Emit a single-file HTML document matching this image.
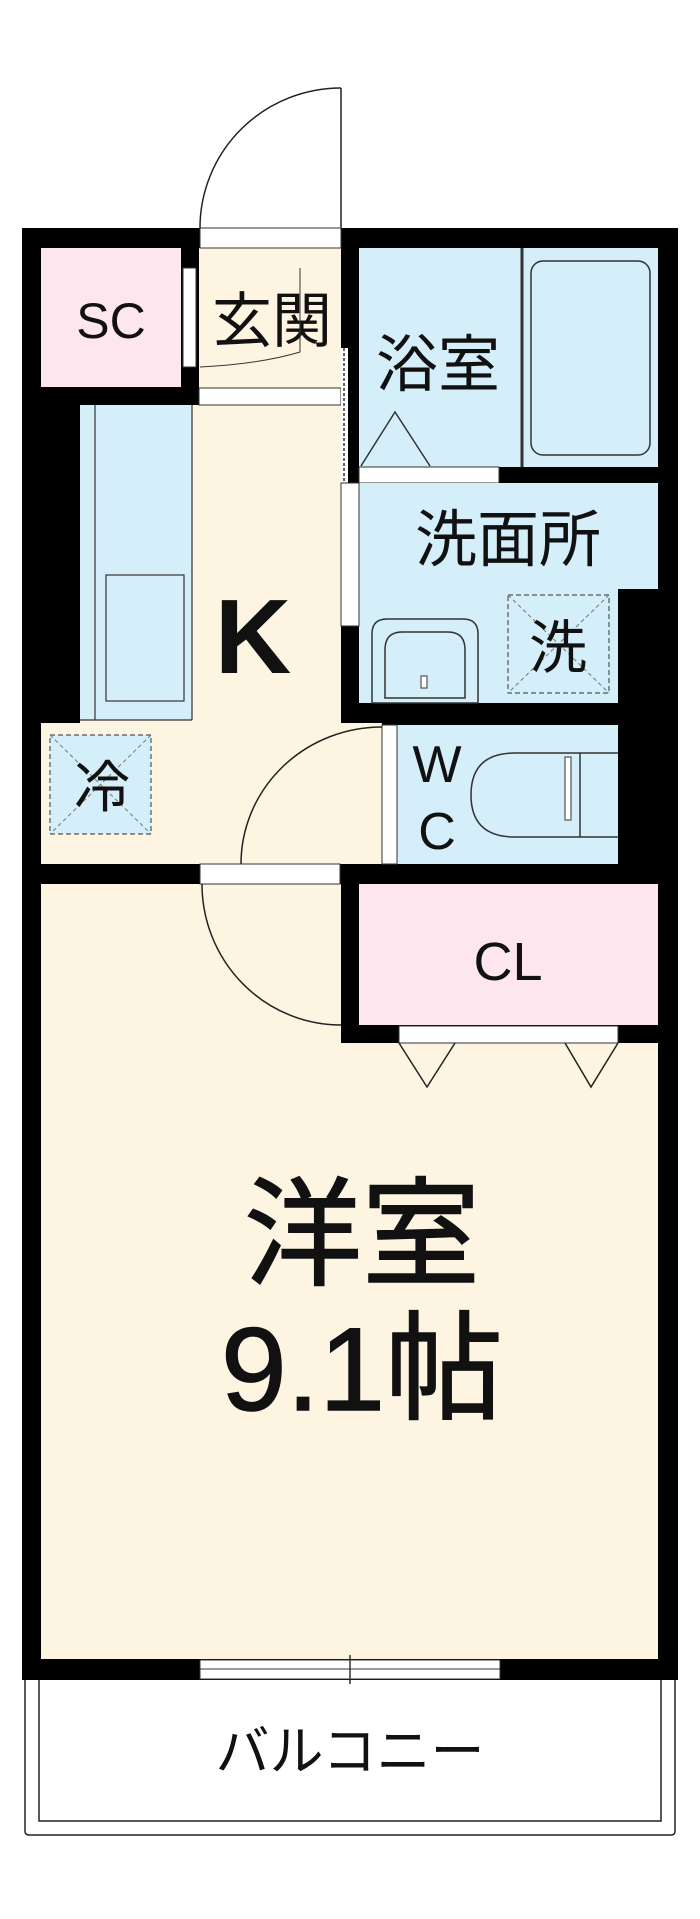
<!DOCTYPE html>
<html><head><meta charset="utf-8"><style>
html,body{margin:0;padding:0;background:#fff}
svg{display:block}
text{font-family:"Liberation Sans","Noto Sans CJK JP",sans-serif;fill:#111}
</style></head><body>
<svg width="700" height="1919" viewBox="0 0 700 1919" xmlns="http://www.w3.org/2000/svg">
<!-- balcony -->
<path d="M25 1680 V1831 Q25 1835 29 1835 H671 Q675 1835 675 1831 V1680" fill="#fff" stroke="#222" stroke-width="1.5"/>
<path d="M39 1680 V1821 H661 V1680" fill="none" stroke="#222" stroke-width="1.5"/>
<text x="350" y="1770" font-size="54" text-anchor="middle">バルコニー</text>

<!-- outer wall block -->
<rect x="22" y="228" width="656" height="1452" fill="#000"/>
<!-- bedroom -->
<rect x="41" y="884" width="300" height="775" fill="#fdf5e2"/>
<rect x="41" y="1043" width="617" height="616" fill="#fdf5e2"/>
<!-- K -->
<rect x="41" y="723" width="341" height="141" fill="#fdf5e2"/>
<rect x="80" y="405" width="261" height="459" fill="#fdf5e2"/>
<!-- genkan -->
<rect x="199" y="248" width="142" height="157" fill="#fdf5e2"/>
<rect x="200" y="228" width="141" height="20" fill="#fff" stroke="#333" stroke-width="1"/>
<rect x="199" y="388" width="142" height="17" fill="#fff" stroke="#333" stroke-width="1"/>
<!-- SC -->
<rect x="41" y="248" width="140" height="139" fill="#fde6ee"/>
<rect x="183" y="268" width="13" height="99" fill="#fff" stroke="#333" stroke-width="1"/>
<!-- bath -->
<rect x="359" y="248" width="299" height="219" fill="#d4eefa"/>
<line x1="522" y1="248" x2="522" y2="467" stroke="#333" stroke-width="3"/>
<rect x="531" y="261" width="119" height="194" rx="12" fill="#d4eefa" stroke="#333" stroke-width="1.5"/>
<path d="M361 466 L395 412 L430 466" fill="none" stroke="#333" stroke-width="1.5"/>
<rect x="359" y="467" width="140" height="16" fill="#fff" stroke="#333" stroke-width="1"/>
<!-- dotted folding door -->
<rect x="341" y="348" width="7" height="135" fill="#fff"/>
<line x1="344" y1="348" x2="344" y2="483" stroke="#333" stroke-width="1.5" stroke-dasharray="3,2"/>
<!-- washroom -->
<rect x="359" y="483" width="299" height="106" fill="#d4eefa"/>
<rect x="359" y="589" width="259" height="114" fill="#d4eefa"/>
<rect x="341" y="483" width="18" height="143" fill="#fff" stroke="#333" stroke-width="1"/>
<path d="M372 703 V634 Q372 619 387 619 H463 Q478 619 478 634 V703 Z" fill="#d4eefa" stroke="#333" stroke-width="1.5"/>
<path d="M385 698 V650 Q385 632 402 632 H448 Q465 632 465 650 V698 Z" fill="none" stroke="#333" stroke-width="1.5"/>
<rect x="421" y="676" width="6" height="12" fill="#fff" stroke="#333" stroke-width="1"/>
<rect x="508" y="595" width="101" height="98" fill="none" stroke="#555" stroke-width="1.2" stroke-dasharray="5,3"/>
<path d="M508 595 L609 693 M609 595 L508 693" stroke="#777" stroke-width="1" stroke-dasharray="4,3"/>
<text x="508" y="561" font-size="62" text-anchor="middle">洗面所</text>
<text x="558" y="668" font-size="58" text-anchor="middle">洗</text>
<!-- WC -->
<rect x="397" y="725" width="221" height="139" fill="#d4eefa"/>
<rect x="382" y="725" width="15" height="139" fill="#fff" stroke="#333" stroke-width="1"/>
<path d="M618 753 H515 Q471 753 471 795 Q471 837 515 837 H618" fill="#d4eefa" stroke="#333" stroke-width="1.5"/>
<line x1="580" y1="753" x2="580" y2="837" stroke="#333" stroke-width="1.5"/>
<rect x="565" y="757" width="6" height="63" fill="#fff" stroke="#333" stroke-width="1"/>
<text x="437" y="782" font-size="52" text-anchor="middle">W</text>
<text x="437" y="849" font-size="52" text-anchor="middle">C</text>
<!-- kitchen counter -->
<rect x="80" y="405" width="112" height="315" fill="#d4eefa"/>
<line x1="95" y1="405" x2="95" y2="720" stroke="#333" stroke-width="1.2"/>
<line x1="192" y1="405" x2="192" y2="720" stroke="#333" stroke-width="1.2"/>
<line x1="80" y1="720" x2="192" y2="720" stroke="#333" stroke-width="1.2"/>
<rect x="106" y="575" width="78" height="126" fill="#d4eefa" stroke="#333" stroke-width="1.2"/>
<!-- fridge -->
<rect x="50" y="735" width="101" height="99" fill="#d4eefa" stroke="#555" stroke-width="1.2" stroke-dasharray="5,3"/>
<path d="M50 735 L151 834 M151 735 L50 834" stroke="#777" stroke-width="1" stroke-dasharray="4,3"/>
<text x="102" y="807" font-size="56" text-anchor="middle">冷</text>
<!-- K door arc -->
<path d="M382 727 A141 137 0 0 0 241 864" fill="none" stroke="#222" stroke-width="1.5"/>
<text x="253" y="673" font-size="106" font-weight="bold" text-anchor="middle">K</text>
<text x="111" y="338" font-size="50" text-anchor="middle">SC</text>
<text x="272" y="342" font-size="60" text-anchor="middle">玄関</text>
<text x="438" y="386" font-size="62" text-anchor="middle">浴室</text>
<!-- entrance door -->
<line x1="341" y1="88" x2="341" y2="228" stroke="#222" stroke-width="1.5"/>
<path d="M341 88 A141 140 0 0 0 200 228" fill="none" stroke="#222" stroke-width="1.5"/>
<path d="M200 367 Q260 364 300 352 V268" fill="none" stroke="#333" stroke-width="1"/>
<!-- door to bedroom -->
<rect x="200" y="864" width="140" height="20" fill="#fff" stroke="#333" stroke-width="1"/>
<path d="M202 884 A139 141 0 0 0 341 1025" fill="none" stroke="#222" stroke-width="1.5"/>
<!-- CL -->
<rect x="359" y="884" width="299" height="141" fill="#fde6ee"/>
<text x="508" y="980" font-size="54" text-anchor="middle">CL</text>
<rect x="399" y="1026" width="219" height="17" fill="#fff" stroke="#333" stroke-width="1"/>
<path d="M399 1043 L427 1087 L455 1043 M565 1043 L591 1087 L618 1043" fill="none" stroke="#222" stroke-width="1.5"/>
<!-- window -->
<rect x="200" y="1660" width="300" height="19" fill="#fff" stroke="#333" stroke-width="1"/>
<line x1="200" y1="1669" x2="500" y2="1669" stroke="#333" stroke-width="1"/>
<line x1="350" y1="1655" x2="350" y2="1684" stroke="#333" stroke-width="1.5"/>
<!-- bedroom label -->
<text x="362" y="1276" font-size="118" text-anchor="middle" stroke="#111" stroke-width="1.5">洋室</text>
<text x="362" y="1410" font-size="118" text-anchor="middle" stroke="#111" stroke-width="1.5">9.1帖</text>
</svg>
</body></html>
